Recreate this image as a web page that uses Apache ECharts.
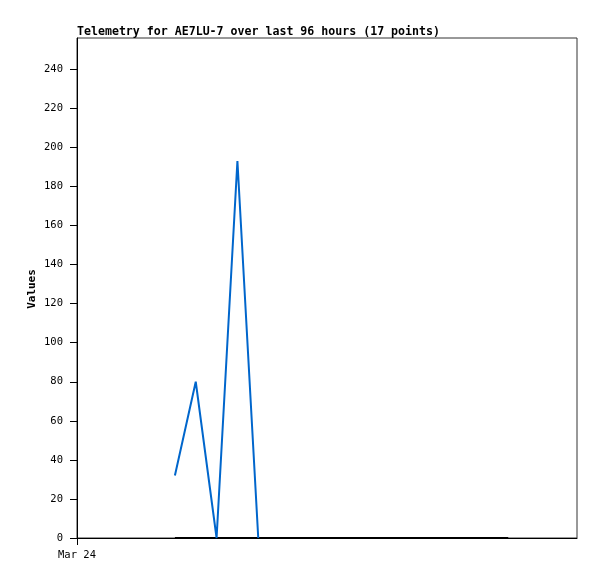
<!DOCTYPE html>
<html><head><meta charset="utf-8">
<script src="https://cdn.jsdelivr.net/npm/echarts@6/dist/echarts.min.js"></script>
<style>html,body{margin:0;padding:0;background:#fff}#c{width:597px;height:579px}</style>
</head><body><div id="c"></div>
<script>
// hours since Mar 24 00:00
const hours = [18.8,22.8,26.8,30.8,34.8,38.8,42.8,46.8,50.8,54.8,58.8,62.8,66.8,70.8,74.8,78.8,82.8];
const blueValues = [32,80,0,193,0];
const blackValues = [0,0,0,0,0,0,0,0,0,0,0,0,0,0,0,0,0];
const xTickLabels = ['Mar 24'];
const titleText = 'Telemetry for AE7LU-7 over last 96 hours (17 points)';
const yAxisName = 'Values';

const mono = 'DejaVu Sans Mono';
const chart = echarts.init(document.getElementById('c'));
chart.setOption({
  animation:false,
  backgroundColor:'#fff',
  title:{text:titleText,left:77,top:26,padding:0,textStyle:{fontFamily:mono,fontSize:11.6,fontWeight:'bold',color:'#000'}},
  graphic:[{type:'text',x:32,y:289,rotation:Math.PI/2,
    style:{text:yAxisName,fontFamily:mono,fontSize:11,fontWeight:'bold',fill:'#000',align:'center',verticalAlign:'middle'}}],
  grid:{left:77,right:20,top:38,bottom:41,show:true,borderColor:'#333',borderWidth:1,backgroundColor:'transparent'},
  xAxis:{type:'value',min:0,max:96,
    axisLine:{show:true,lineStyle:{color:'#000',width:1}},
    axisTick:{show:true,length:7,customValues:[0],lineStyle:{color:'#000'}},
    axisLabel:{customValues:[0],formatter:()=>xTickLabels[0],fontFamily:mono,fontSize:10.5,color:'#000',margin:12},
    splitLine:{show:false}},
  yAxis:{type:'value',min:0,max:256,interval:20,
    axisLine:{show:true,lineStyle:{color:'#000',width:1}},
    axisTick:{show:true,length:7,lineStyle:{color:'#000'}},
    axisLabel:{fontFamily:mono,fontSize:10.5,color:'#000',margin:14,showMaxLabel:false},
    splitLine:{show:false}},
  series:[
    {type:'line',data:hours.map((h,i)=>[h,blackValues[i]]),showSymbol:false,lineStyle:{color:'#000',width:2},z:2},
    {type:'line',data:blueValues.map((v,i)=>[hours[i],v]),showSymbol:false,lineStyle:{color:'#0066cc',width:2},z:3}
  ]
});
</script></body></html>
